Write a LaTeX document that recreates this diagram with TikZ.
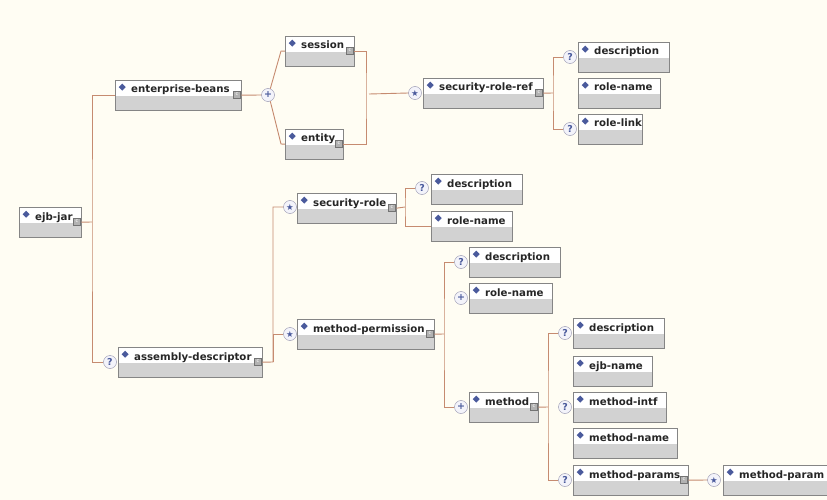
\documentclass[tikz,border=0pt]{standalone}
\usepackage{fontspec}
\setmainfont{DejaVu Sans}
\definecolor{paper}{HTML}{FFFDF3}
\definecolor{linecol}{HTML}{C68B70}
\definecolor{boxline}{HTML}{858585}
\definecolor{boxgrey}{HTML}{D2D2D2}
\definecolor{diam}{HTML}{4A5A9C}
\definecolor{ringline}{HTML}{8E8EAA}
\definecolor{ringfill}{HTML}{F3F3FA}
\begin{document}
\begin{tikzpicture}[x=1pt,y=-1pt,
    elem/.style 2 args={draw=boxline,fill=white,anchor=north west,inner sep=0,minimum height=30,minimum width=#1,
        path picture={
            \fill[boxgrey] ([yshift=-16]path picture bounding box.north west) rectangle (path picture bounding box.south east);
            \fill[diam] ([xshift=7,yshift=-7]path picture bounding box.north west) +(0,3.5) -- +(3.5,0) -- +(0,-3.5) -- +(-3.5,0) -- cycle;},
        label={[txt]north west:#2}},
    txt/.style={anchor=base west,xshift=16,yshift=-13,inner sep=0,text=black!85,font=\bfseries\fontsize{10.2}{12}\selectfont},
    cplx/.style={label={[cicon]north east:c}},
    cicon/.style={anchor=center,xshift=-4.5,yshift=-14.5,minimum size=7,inner sep=0,draw=black!55,fill=black!30,text=white,font=\fontsize{5}{5}\selectfont},
    ring/.style={circle,draw=ringline,fill=ringfill,minimum size=13,inner sep=0,text=diam,font=\bfseries\fontsize{9.5}{9.5}\selectfont},
    starring/.style={ring,font=\fontsize{8.5}{8.5}\selectfont},
    conn/.style={draw=linecol,line width=.9pt}]
    \fill[paper](0,0) rectangle (827,500);
    \useasboundingbox (0,0) rectangle (827,500);
    % elements
    \node[elem={62}{ejb-jar},cplx] (ejbjar) at (19,207) {};
    \node[elem={126}{enterprise-beans},cplx] (eb) at (115,80) {};
    \node[elem={69}{session},cplx] (sess) at (285,36) {};
    \node[elem={58}{entity},cplx] (ent) at (285,129) {};
    \node[elem={120}{security-role-ref},cplx] (srr) at (423,78) {};
    \node[elem={91}{description}] (desc1) at (578,42) {};
    \node[elem={82}{role-name}] (rn1) at (578,78) {};
    \node[elem={64}{role-link}] (rl) at (578,114) {};
    \node[elem={144}{assembly-descriptor},cplx] (ad) at (118,347) {};
    \node[elem={99}{security-role},cplx] (sr) at (297,193) {};
    \node[elem={91}{description}] (desc2) at (431,174) {};
    \node[elem={81}{role-name}] (rn2) at (431,211) {};
    \node[elem={137}{method-permission},cplx] (mp) at (297,319) {};
    \node[elem={91}{description}] (desc3) at (469,247) {};
    \node[elem={83}{role-name}] (rn3) at (469,283) {};
    \node[elem={69}{method},cplx] (meth) at (469,392) {};
    \node[elem={91}{description}] (desc4) at (573,318) {};
    \node[elem={79}{ejb-name}] (ejbn) at (573,356) {};
    \node[elem={93}{method-intf}] (mintf) at (573,392) {};
    \node[elem={104}{method-name}] (mname) at (573,428) {};
    \node[elem={115}{method-params},cplx] (mparams) at (573,465) {};
    \node[elem={106}{method-param}] (mparam) at (723,465) {};
    % occurrence marks
    \node[ring] (ebp) at (268,95) {+};
    \node[starring] (srrs) at (415,93) {★};
    \node[ring] (d1q) at (570,57) {?};
    \node[ring] (rlq) at (570,129) {?};
    \node[ring] (adq) at (110,362) {?};
    \node[starring] (srs) at (290,207) {★};
    \node[starring] (mps) at (290,334) {★};
    \node[ring] (d2q) at (422,188) {?};
    \node[ring] (d3q) at (461,262) {?};
    \node[ring] (rn3p) at (461,298) {+};
    \node[ring] (methp) at (461,407) {+};
    \node[ring] (d4q) at (565,333) {?};
    \node[ring] (mintfq) at (565,407) {?};
    \node[ring] (mpq) at (565,480) {?};
    \node[starring] (mpas) at (714,480) {★};
    % joints
    \coordinate (j1) at (92,222);
    \coordinate (j2) at (273,362);
    \coordinate (j3) at (366,94);
    \coordinate (j4) at (553,93);
    \coordinate (j5) at (405,207);
    \coordinate (j6) at (444,334);
    \coordinate (j7) at (548,407);
    % tree lines
    \draw[conn](ejbjar.east)--(j1);
    \draw[conn](eb.west)-|(j1)|-(adq.west);
    \draw[conn](eb.east)--(ebp.west);
    \draw[conn](ebp.70)--(281,51)--(sess.west);
    \draw[conn](ebp.-70)--(281,144)--(ent.west);
    \draw[conn](sess.east)-|(j3)|-(ent.east);
    \draw[conn]([xshift=3]j3)--(srrs.west);
    \draw[conn](srr.east)--(j4);
    \draw[conn](d1q.west)-|(j4)|-(rlq.west);
    \draw[conn](ad.east)--(j2)|-(srs.west);
    \draw[conn](j2)|-(mps.west);
    \draw[conn](sr.east)--(j5);
    \draw[conn](d2q.west)-|(j5)|-(rn2.west);
    \draw[conn](mp.east)--(j6);
    \draw[conn](d3q.west)-|(j6)|-(methp.west);
    \draw[conn](meth.east)--(j7);
    \draw[conn](d4q.west)-|(j7)|-(mpq.west);
    \draw[conn](mparams.east)--(mpas.west);
\end{tikzpicture}
\end{document}
